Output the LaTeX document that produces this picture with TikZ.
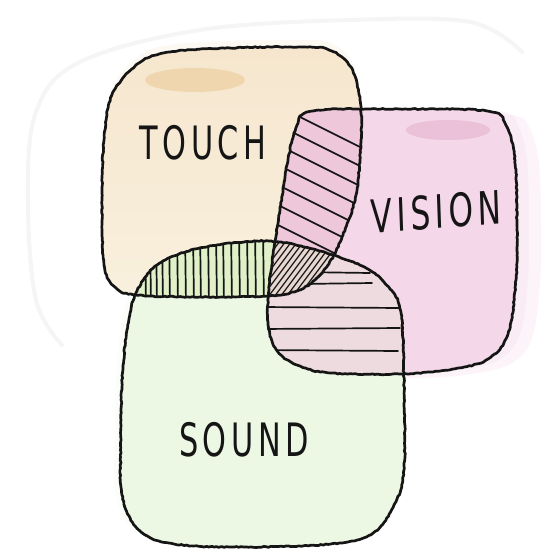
\documentclass[tikz,border=0pt]{standalone}
\usepackage{fontspec}
\newfontfamily\handfont[LetterSpace=15]{DejaVu Sans}
\usetikzlibrary{decorations.pathmorphing}
\definecolor{touchtop}{HTML}{F6E6CE}
\definecolor{touchbot}{HTML}{F8F0DD}
\definecolor{touchblob}{HTML}{EBCB98}
\definecolor{visionfill}{HTML}{F4D7E8}
\definecolor{visionblob}{HTML}{E5B2CF}
\definecolor{soundfill}{HTML}{EDF8E4}
\definecolor{tsfill}{HTML}{E0F0C8}
\definecolor{tvfill}{HTML}{EFC7DA}
\definecolor{svfill}{HTML}{EEDBE0}
\definecolor{tvsfill}{HTML}{E8D7D0}
\definecolor{ink}{HTML}{151515}
\tikzset{
  outline/.style={draw=ink, line width=2.7pt, line join=round, line cap=round,
    decorate, decoration={random steps, segment length=2.5pt, amplitude=0.5pt}},
  hatch/.style={draw=ink, line width=1.7pt, line cap=round},
  densehatch/.style={draw=ink, line width=1.2pt, line cap=round},
  label/.style={text=ink, inner sep=0pt, font=\handfont\fontsize{46}{46}\selectfont}
}
\begin{document}
\begin{tikzpicture}[x=1pt,y=-1pt]
\pgfmathsetseed{7}
\useasboundingbox (0,0) rectangle (546,552);
\fill[white] (0,0) rectangle (546,552);

\def\touchpath{plot[smooth cycle, tension=0.6] coordinates {(139,63) (170,52) (230,48) (290,47) (327,49) (350,66) (360,100) (361,140) (356,195) (342,237) (328,265) (310,284) (290,293) (268,296) (200,297) (136,295) (115,287) (104,265) (102,200) (104,140) (112,95)}}
\def\visionpath{plot[smooth cycle, tension=0.6] coordinates {(313,111) (400,109) (487,111) (506,125) (515,160) (517,220) (516,280) (508,334) (488,359) (453,369) (400,374) (330,373) (300,366) (278,352) (268,325) (269,290) (273,255) (280,210) (287,165) (296,128)}}
\def\soundpath{plot[smooth cycle, tension=0.6] coordinates {(136,293) (157,265) (195,249) (244,242) (279,242) (320,251) (366,268) (390,289) (401,313) (404,383) (404,470) (394,505) (373,533) (331,544) (244,547) (174,544) (139,530) (122,495) (121,440) (122,383) (127,330)}}

% faint background outline
\draw[black!4, line width=4pt, line cap=round] plot[smooth, tension=0.6] coordinates {(62,345) (36,300) (28,200) (36,112) (80,62) (200,30) (350,20) (470,22) (522,52)};

% watercolour halos
\begin{scope}[opacity=0.25]
  \fill[touchtop, yshift=7pt] \touchpath;
  \fill[visionfill, xshift=24pt, yshift=-4pt] \visionpath;
  \fill[visionfill, xshift=12pt] \visionpath;
  \fill[soundfill, xshift=-6pt] \soundpath;
\end{scope}

% base washes
\shade[top color=touchtop, bottom color=touchbot] \touchpath;
\fill[visionfill] \visionpath;
\fill[soundfill] \soundpath;
\fill[touchblob, opacity=0.6] (195,80) ellipse [x radius=50, y radius=12];
\fill[visionblob, opacity=0.6] (448,130) ellipse [x radius=42, y radius=10];

% touch & sound : vertical hatching
\begin{scope}
  \clip \touchpath;
  \clip \soundpath;
  \fill[tsfill] (100,230) rectangle (420,310);
  \foreach \x in {145,150,156,162,169,177,185,193,200,208,216,223,231,239,247,255,263}
    \draw[hatch] (\x,230) -- (\x+1,305);
\end{scope}

% touch & vision : slanted hatching
\begin{scope}
  \clip \touchpath;
  \clip \visionpath;
  \fill[tvfill] (260,90) rectangle (380,310);
  \foreach \y in {98,117,137,157,177,197,217,237}
    \draw[hatch] (262,\y) -- ++(110,55);
\end{scope}

% sound & vision : horizontal hatching
\begin{scope}
  \clip \soundpath;
  \clip \visionpath;
  \fill[svfill] (260,230) rectangle (420,390);
  \draw[hatch] (300,272) -- (370,273);
  \draw[hatch] (300,284) -- (372,283);
  \draw[hatch] (262,307) -- (400,308);
  \draw[hatch] (262,329) -- (400,328);
  \draw[hatch] (262,350) -- (398,351);
\end{scope}

% all three : dense diagonal hatching
\begin{scope}
  \clip \touchpath;
  \clip \soundpath;
  \clip \visionpath;
  \fill[tvsfill] (260,230) rectangle (350,310);
  \foreach \c in {220,226,...,340}
    \draw[densehatch] (\c,305) -- ++(60,-80);
\end{scope}

% outlines
\draw[outline] \touchpath;
\draw[outline] \visionpath;
\draw[outline] \soundpath;

% labels
\node[label, xscale=0.66] (touch) at (203,143) {TOUCH};
\node[label, xscale=0.68, rotate=3] (vision) at (436,212) {VISION};
\node[label, xscale=0.66] (sound) at (244,440) {SOUND};
\end{tikzpicture}
\end{document}
